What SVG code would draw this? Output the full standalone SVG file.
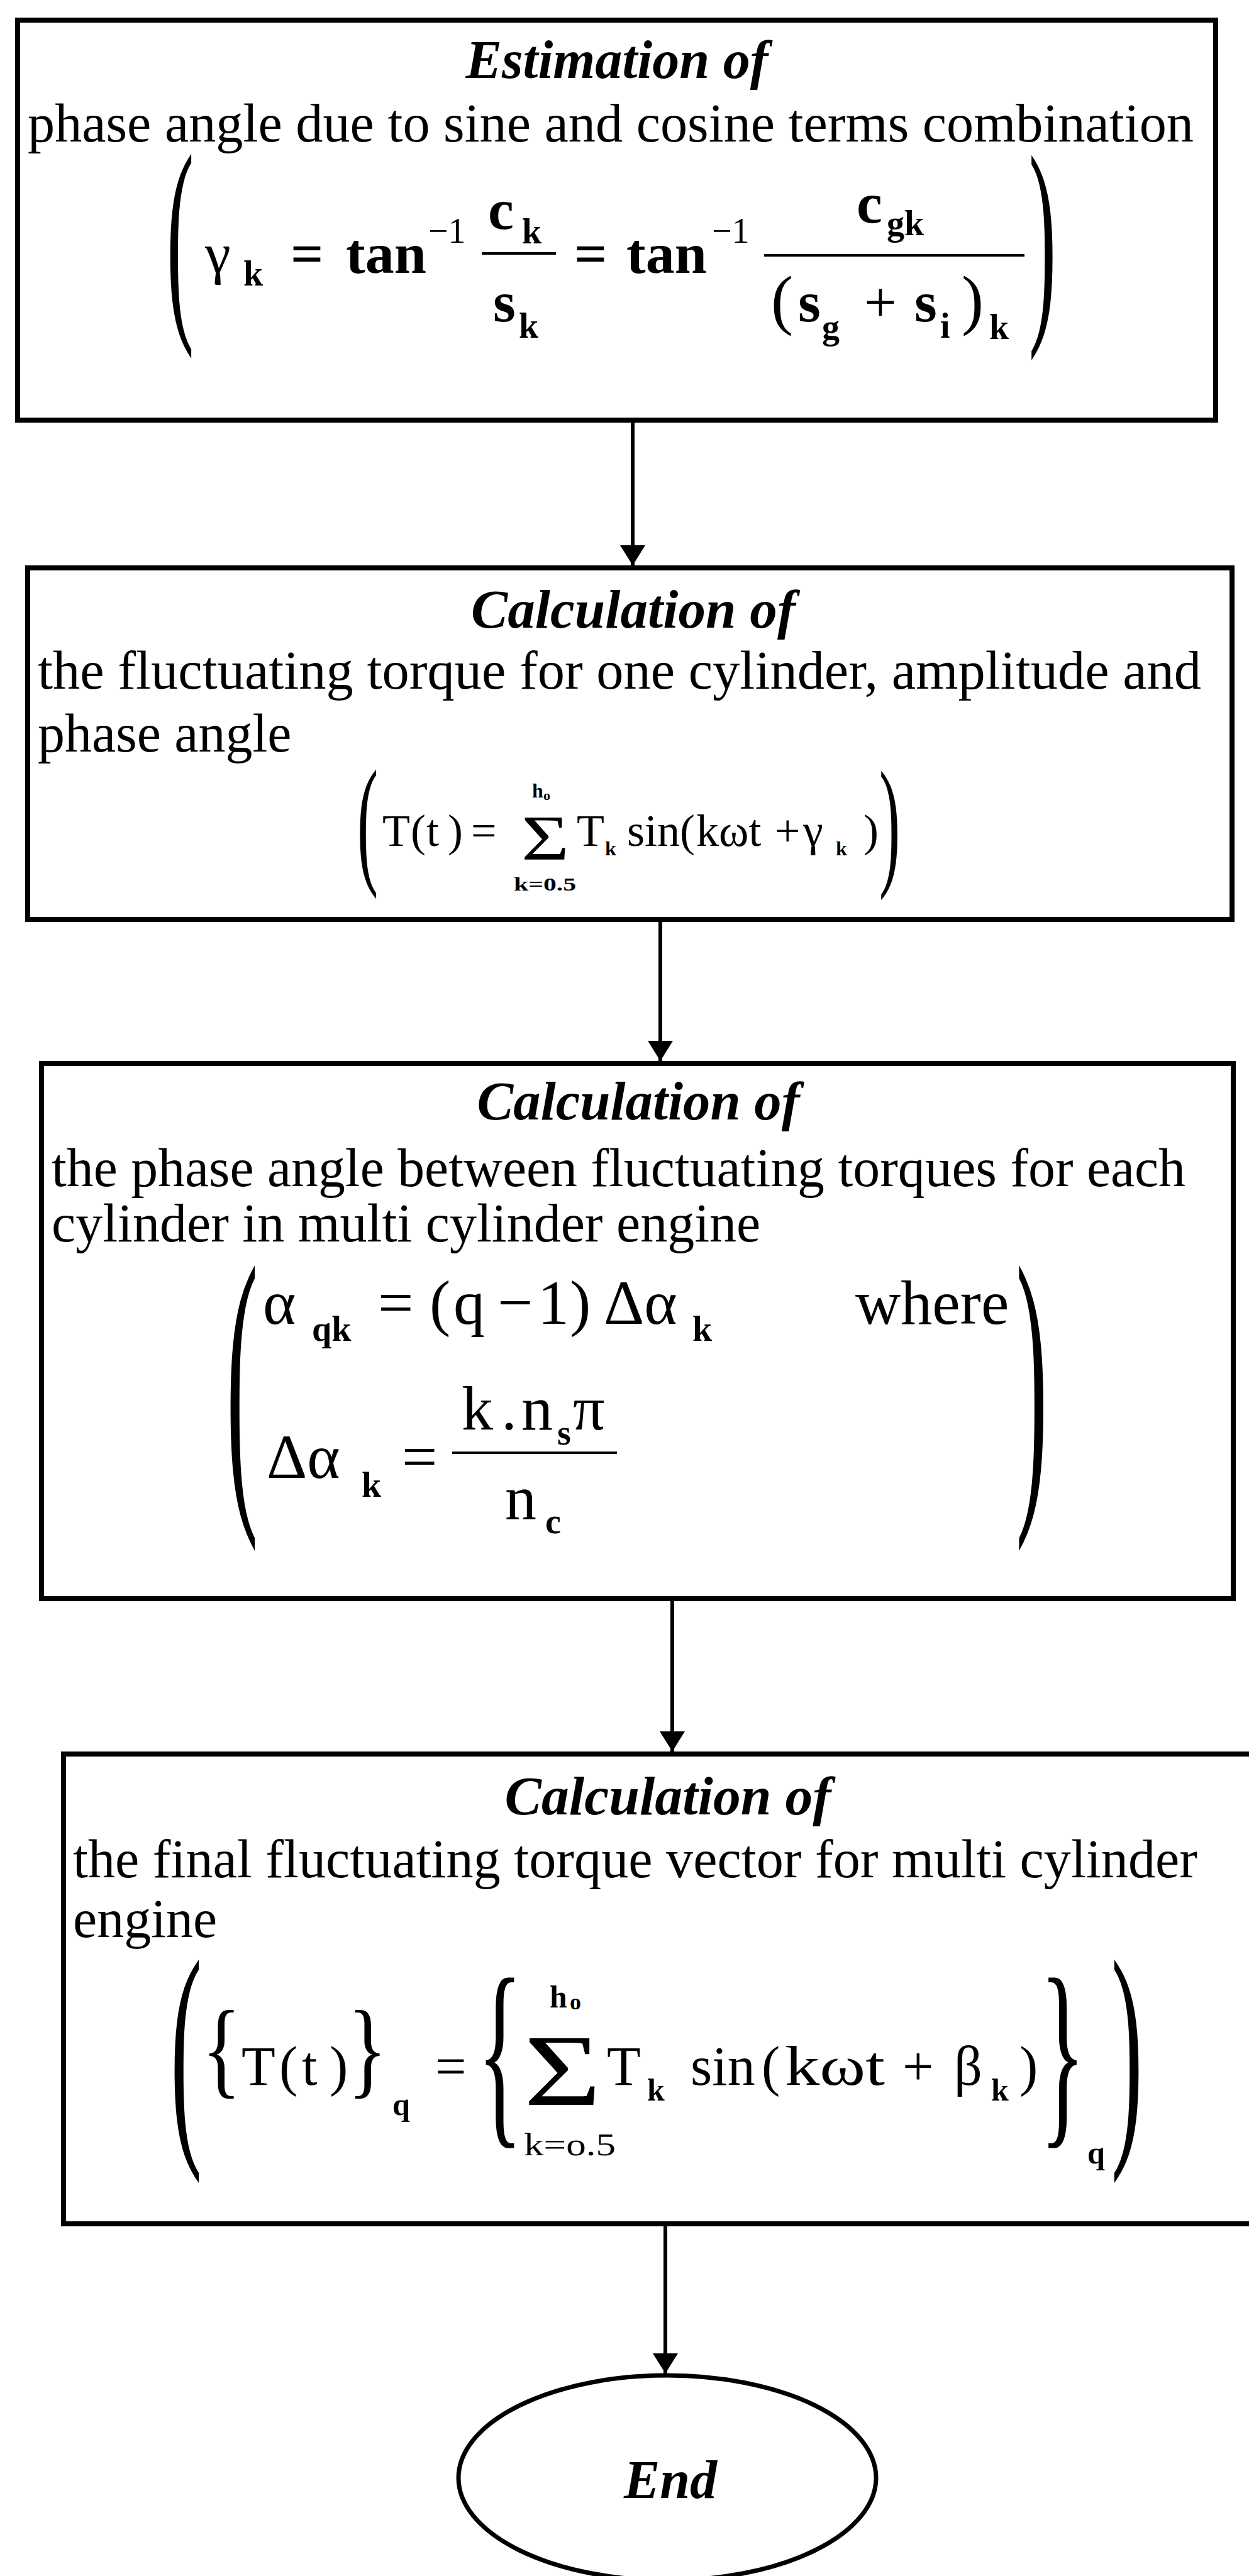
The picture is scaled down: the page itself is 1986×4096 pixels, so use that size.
<svg xmlns="http://www.w3.org/2000/svg" width="1986" height="4096" viewBox="0 0 1986 4096">
<style>
text { font-family: "Liberation Serif", "Times New Roman", serif; fill: #000; }
.box { fill: #fff; stroke: #000; stroke-width: 8; }
.ttl { font-weight: bold; font-style: italic; font-size: 86px; text-anchor: middle; }
.body { font-size: 86px; }
.b { font-weight: bold; }
.n { font-weight: normal; }
.bar { stroke: #000; stroke-width: 4; }
.conn { stroke: #000; stroke-width: 6; fill: none; }
</style>
<defs>
<marker id="ah" viewBox="0 0 32 40" markerWidth="32" markerHeight="40" refX="32" refY="20" orient="auto" markerUnits="userSpaceOnUse">
<path d="M0,0 L32,20 L0,40 z" fill="#000"/>
</marker>
</defs>
<rect x="0" y="0" width="1986" height="4096" fill="#fff"/>

<g id="node-estimation">
<rect class="box" x="28" y="32" width="1905" height="636"/>
<text class="ttl" x="981" y="124" textLength="481" lengthAdjust="spacingAndGlyphs">Estimation of</text>
<text class="body" x="44" y="225" textLength="1854" lengthAdjust="spacingAndGlyphs">phase angle due to sine and cosine terms combination</text>
<text font-size="130" transform="translate(265,493.5) scale(1,2.759)">(</text>
<text font-size="130" transform="translate(1636,496.3) scale(1,2.768)">)</text>
<line class="bar" x1="766" y1="403" x2="884" y2="403"/>
<line class="bar" x1="1215" y1="406" x2="1629" y2="406"/>
<text class="b" font-size="92"><tspan class="n" x="326" y="434">γ</tspan><tspan x="387" y="454" font-size="56">k</tspan><tspan x="462" y="434">=</tspan><tspan x="550" y="434">tan</tspan><tspan class="n" x="681" y="386" font-size="56">−1</tspan><tspan x="776" y="364">c</tspan><tspan x="830" y="387" font-size="56">k</tspan><tspan x="784" y="511">s</tspan><tspan x="825" y="537" font-size="56">k</tspan><tspan x="913" y="434">=</tspan><tspan x="996" y="434">tan</tspan><tspan class="n" x="1132" y="386" font-size="56">−1</tspan><tspan x="1362" y="354">c</tspan><tspan x="1410" y="374" font-size="56">gk</tspan><tspan class="n" x="1226" y="512" font-size="105">(</tspan><tspan x="1269" y="511">s</tspan><tspan x="1307" y="539" font-size="56">g</tspan><tspan class="n" x="1374" y="511">+</tspan><tspan x="1454" y="511">s</tspan><tspan x="1495" y="537" font-size="56">i</tspan><tspan class="n" x="1529" y="512" font-size="105">)</tspan><tspan x="1573" y="539" font-size="56">k</tspan></text>
</g>

<g id="node-calc-torque">
<rect class="box" x="44" y="903" width="1915" height="559"/>
<text class="ttl" x="1007" y="998" textLength="516" lengthAdjust="spacingAndGlyphs">Calculation of</text>
<text class="body" x="60" y="1095" textLength="1850" lengthAdjust="spacingAndGlyphs">the fluctuating torque for one cylinder, amplitude and</text>
<text class="body" x="60" y="1195">phase angle</text>
<text font-size="100" transform="translate(568,1380.7) scale(1,2.274)">(</text>
<text font-size="100" transform="translate(1398,1382.7) scale(1,2.274)">)</text>
<text font-size="72"><tspan x="608" y="1345">T</tspan><tspan x="653" y="1345">(</tspan><tspan x="678" y="1345">t</tspan><tspan x="712" y="1345">)</tspan><tspan x="749" y="1345">=</tspan><tspan x="829" y="1367" font-size="101" textLength="76" lengthAdjust="spacingAndGlyphs">Σ</tspan><tspan class="b" x="846" y="1268" font-size="32">h</tspan><tspan class="b" x="864" y="1272" font-size="22">o</tspan><tspan class="b" x="817" y="1416" font-size="30" textLength="99" lengthAdjust="spacingAndGlyphs">k=0.5</tspan><tspan x="917" y="1345">T</tspan><tspan class="b" x="962" y="1360" font-size="32">k</tspan><tspan x="997" y="1345">sin(</tspan><tspan x="1107" y="1345">kωt</tspan><tspan x="1232" y="1345">+</tspan><tspan x="1277" y="1345">γ</tspan><tspan class="b" x="1329" y="1360" font-size="32">k</tspan><tspan x="1373" y="1345">)</tspan></text>
</g>

<g id="node-calc-phase">
<rect class="box" x="66" y="1691" width="1895" height="851"/>
<text class="ttl" x="1015" y="1780" textLength="513" lengthAdjust="spacingAndGlyphs">Calculation of</text>
<text class="body" x="82" y="1886" textLength="1803" lengthAdjust="spacingAndGlyphs">the phase angle between fluctuating torques for each</text>
<text class="body" x="82" y="1974">cylinder in multi cylinder engine</text>
<text font-size="150" transform="translate(360,2359.4) scale(1,3.337)">(</text>
<text font-size="150" transform="translate(1615.6,2359.4) scale(1,3.337)">)</text>
<line class="bar" x1="719" y1="2310" x2="981" y2="2310"/>
<text font-size="100"><tspan x="418" y="2105">α</tspan><tspan class="b" x="496" y="2132" font-size="56">qk</tspan><tspan x="601" y="2105">=</tspan><tspan x="683" y="2105">(</tspan><tspan x="721" y="2105">q</tspan><tspan x="791" y="2105">−</tspan><tspan x="855" y="2105">1</tspan><tspan x="906" y="2105">)</tspan><tspan x="960" y="2105">Δα</tspan><tspan class="b" x="1101" y="2132" font-size="56">k</tspan><tspan x="1360" y="2105">where</tspan><tspan x="424" y="2350">Δα</tspan><tspan class="b" x="575" y="2380" font-size="56">k</tspan><tspan x="639" y="2350">=</tspan><tspan x="734" y="2273">k</tspan><tspan x="797" y="2273">.</tspan><tspan x="829" y="2273">n</tspan><tspan class="b" x="886" y="2297" font-size="56">s</tspan><tspan x="911" y="2273">π</tspan><tspan x="803" y="2415">n</tspan><tspan class="b" x="867" y="2438" font-size="56">c</tspan></text>
</g>

<g id="node-calc-vector">
<rect class="box" x="101" y="2789" width="1900" height="747"/>
<text class="ttl" x="1062" y="2885" textLength="519" lengthAdjust="spacingAndGlyphs">Calculation of</text>
<text class="body" x="116" y="2985" textLength="1788" lengthAdjust="spacingAndGlyphs">the final fluctuating torque vector for multi cylinder</text>
<text class="body" x="116" y="3080">engine</text>
<text font-size="150" transform="translate(271,3387.7) scale(1,2.61)">(</text>
<text font-size="150" transform="translate(1767,3387.7) scale(1,2.61)">)</text>
<text font-size="130" transform="translate(321,3313.6) scale(1,1.296)">{</text>
<text font-size="130" transform="translate(553,3313.6) scale(1,1.296)">}</text>
<text font-size="150" transform="translate(759,3371.7) scale(1,2.183)">{</text>
<text font-size="150" transform="translate(1653.5,3371.7) scale(1,2.183)">}</text>
<text font-size="88"><tspan x="384" y="3315">T</tspan><tspan x="444" y="3315">(</tspan><tspan x="480" y="3315">t</tspan><tspan x="524" y="3315">)</tspan><tspan class="b" x="624" y="3363" font-size="50">q</tspan><tspan x="692" y="3315">=</tspan><tspan x="833" y="3347" font-size="160" textLength="123" lengthAdjust="spacingAndGlyphs">Σ</tspan><tspan class="b" x="874" y="3192" font-size="50">h</tspan><tspan class="b" x="906" y="3195" font-size="36">o</tspan><tspan x="833" y="3427" font-size="50" textLength="146" lengthAdjust="spacingAndGlyphs">k=o.5</tspan><tspan x="965" y="3315">T</tspan><tspan class="b" x="1029" y="3340" font-size="50">k</tspan><tspan x="1098" y="3315">sin</tspan><tspan x="1211" y="3315">(</tspan><tspan x="1248" y="3315" textLength="159" lengthAdjust="spacingAndGlyphs">kωt</tspan><tspan x="1435" y="3315">+</tspan><tspan x="1517" y="3315">β</tspan><tspan class="b" x="1576" y="3340" font-size="50">k</tspan><tspan x="1621" y="3315">)</tspan><tspan class="b" x="1729" y="3440" font-size="50">q</tspan></text>
</g>

<g id="node-end">
<ellipse cx="1061" cy="3940" rx="332" ry="163" fill="#fff" stroke="#000" stroke-width="7"/>
<text class="ttl" x="1066" y="3972">End</text>
</g>

<g id="connectors">
<line class="conn" x1="1006" y1="672" x2="1006" y2="899" marker-end="url(#ah)"/>
<line class="conn" x1="1050" y1="1466" x2="1050" y2="1687" marker-end="url(#ah)"/>
<line class="conn" x1="1069" y1="2546" x2="1069" y2="2785" marker-end="url(#ah)"/>
<line class="conn" x1="1058" y1="3540" x2="1058" y2="3774" marker-end="url(#ah)"/>
</g>
</svg>
